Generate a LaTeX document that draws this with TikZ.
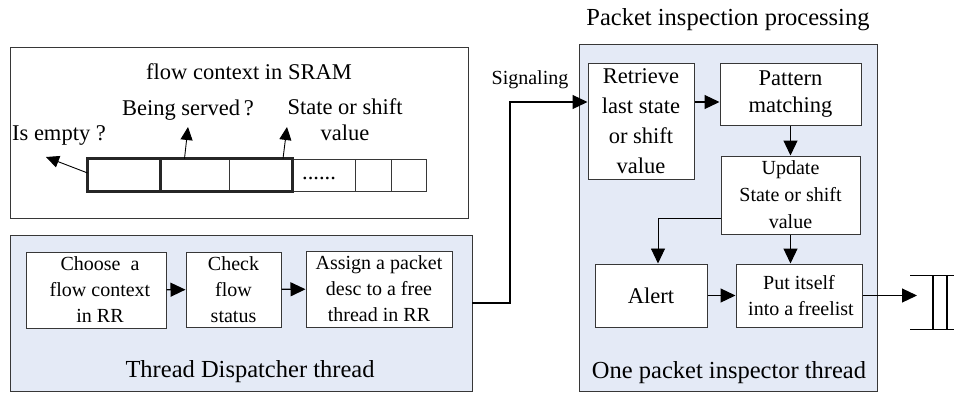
\documentclass[tikz,border=0pt]{standalone}
\usepackage{fontspec}
\setmainfont{Liberation Serif}
\newfontfamily\tnr{Liberation Serif}
\usetikzlibrary{arrows.meta}

\definecolor{panel}{RGB}{228,234,246}
\definecolor{edge}{RGB}{55,55,55}

% font sizes used in the figure
\newcommand\txtT{\tnr\fontsize{24.5}{29}\selectfont}
\newcommand\txtL{\tnr\fontsize{22.5}{26}\selectfont}
\newcommand\txtR{\tnr\fontsize{22.5}{30}\selectfont}
\newcommand\txtP{\tnr\fontsize{22.5}{27}\selectfont}
\newcommand\txtS{\tnr\fontsize{20}{26}\selectfont}
\newcommand\txtU{\tnr\fontsize{20}{27}\selectfont}

\tikzset{
  arr/.style={-{Triangle[length=15pt,width=14pt]}, line width=1.2pt},
  lblarr/.style={-{Triangle[length=13pt,width=12pt]}, line width=0.9pt},
  panelbox/.style={draw=edge, line width=1pt, fill=panel, inner sep=0pt},
  plainbox/.style={draw=edge, line width=1pt, fill=white, inner sep=0pt},
  stepbox/.style={draw=edge, line width=1pt, fill=white, inner sep=0pt, align=center},
  cell/.style={draw=edge, line width=0.7pt, inner sep=0pt, minimum height=32pt},
}

\begin{document}
\begin{tikzpicture}[x=1pt,y=-1pt]
\useasboundingbox (0,0) rectangle (954,392);

% ---- outer panels ----
\node[plainbox, minimum width=458pt, minimum height=171pt] (ctx) at (239,132.5) {};
\node[panelbox, minimum width=462pt, minimum height=156pt] (dispatch) at (241,313) {};
\node[panelbox, minimum width=298pt, minimum height=347pt] (insp) at (728,217.5) {};

% ---- panel titles ----
\node[font=\txtL] (ctxtitle) at (249,72) {flow context in SRAM};
\node[font=\txtT] (disptitle) at (250,372) {Thread Dispatcher thread};
\node[font=\txtT] (insptitle) at (729,373) {One packet inspector thread};
\node[font=\txtT] (proctitle) at (728,20) {Packet inspection processing};

% ---- flow context cells ----
\node[cell, minimum width=72pt] (c1) at (124,175) {};
\node[cell, minimum width=69pt] (c2) at (194.5,175) {};
\node[cell, minimum width=63pt] (c3) at (260.5,175) {};
\node[cell, minimum width=63pt] (c4) at (323.5,175) {};
\node[cell, minimum width=36pt] (c5) at (373,175) {};
\node[cell, minimum width=35pt] (c6) at (408.5,175) {};
\node[font=\txtL, anchor=base] (dots) at (319,179) {......};
\draw[line width=2.8pt, black!85] (c1.north west) rectangle (c3.south east);
\draw[line width=2.8pt, black!85] (c1.north east) -- (c1.south east);

% ---- cell field labels ----
\node[font=\txtL] (lblempty) at (59,135) {Is empty ?};
\node[font=\txtL] (lblserved) at (188,110) {Being served\,?};
\node[font=\txtL, align=center] (lblstate) at (345,120) {State or shift\\value};
\coordinate (emptytip) at (46,157);
\coordinate (servedtip) at (188,127);
\coordinate (statetip) at (287,127);
\draw[lblarr] ([yshift=2pt]c1.west) -- (emptytip);
\draw[lblarr] ([xshift=-10pt]c2.north) -- (servedtip);
\draw[lblarr] ([xshift=22.5pt]c3.north) -- (statetip);

% ---- dispatcher steps ----
\node[stepbox, font=\txtS, minimum width=140pt, minimum height=76pt] (choose) at (96,290)
  {\hspace*{8pt}Choose\ \ a\\\hspace*{8pt}flow context\\\hspace*{8pt}in RR};
\node[stepbox, font=\txtS, minimum width=95pt, minimum height=75pt] (check) at (233.5,289.5)
  {Check\\flow\\status};
\node[stepbox, font=\txtS, minimum width=146pt, minimum height=76pt] (assign) at (379,289)
  {Assign a packet\\desc to a free\\thread in RR};
\draw[arr] (choose) -- (check);
\draw[arr] (check) -- (assign);

% ---- inspector steps ----
\node[stepbox, font=\txtR, minimum width=106pt, minimum height=116pt] (retrieve) at (641,121)
  {Retrieve\\last state\\or shift\\value};
\node[stepbox, font=\txtP, minimum width=141pt, minimum height=62pt] (pattern) at (790.5,94)
  {Pattern\\matching};
\node[stepbox, font=\txtU, minimum width=139pt, minimum height=78pt] (update) at (790.5,195)
  {Update\\State or shift\\value};
\node[stepbox, font=\txtL, minimum width=112pt, minimum height=63pt] (alert) at (651,295.5)
  {Alert};
\node[stepbox, font=\txtS, minimum width=126pt, minimum height=63pt] (put) at (799,295.5)
  {Put itself\\\hspace*{4pt}into a freelist};

% ---- signaling link ----
\node[font=\txtS] (sig) at (530,80) {Signaling};
\coordinate (sigout) at (472,303);
\coordinate (sigturn) at (510,102);
\draw[arr] (sigout) -| (sigturn) -- (sigturn -| retrieve.west);

% ---- inspector flow ----
\draw[arr] (retrieve.east |- sigturn) -- (pattern.west |- sigturn);
\draw[arr] (pattern) -- (update);
\coordinate (alertturn) at (658,218);
\draw[arr, line width=0.9pt] (update.west |- alertturn) -| (alertturn |- alert.north);
\draw[arr] (update.south) -- (update.south |- put.north);
\draw[arr] (alert) -- (put);
\coordinate (qin) at (917,295.5);
\draw[arr] (put.east) -- (qin);

% ---- free list queue ----
\draw[line width=1pt] (910,275) -- (954,275);
\draw[line width=1pt] (910,329) -- (954,329);
\draw[line width=2.6pt] (933,275) -- (933,329);
\draw[line width=2.6pt] (947,275) -- (947,329);
\end{tikzpicture}
\end{document}
